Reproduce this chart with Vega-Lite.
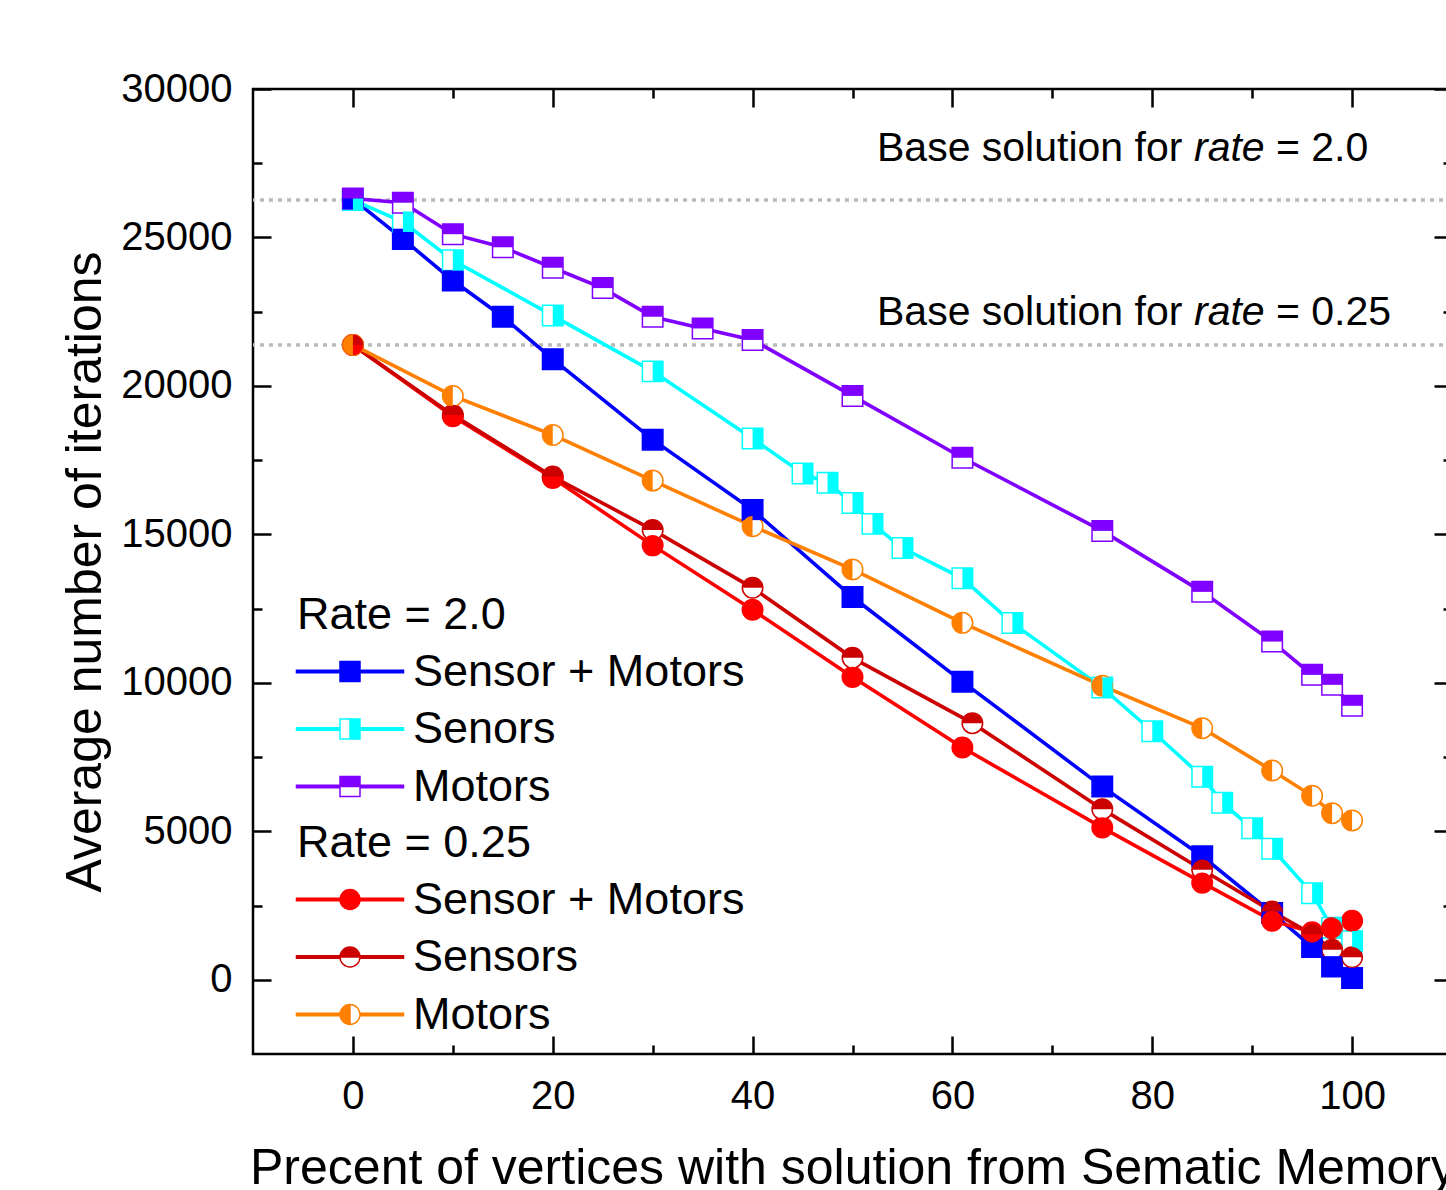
{
  "$schema": "https://vega.github.io/schema/vega-lite/v6.json",
  "width": 1199,
  "height": 965,
  "autosize": {"type": "none"},
  "padding": {"left": 253, "top": 89, "right": -6, "bottom": 136},
  "background": "white",
  "config": {
    "view": {"stroke": "black", "strokeWidth": 2.5},
    "font": "Liberation Sans",
    "axis": {
      "grid": false, "domain": false, "tickColor": "black", "tickWidth": 2.5,
      "labelColor": "black", "titleColor": "black", "labelFont": "Liberation Sans",
      "titleFont": "Liberation Sans", "labelFontSize": 40, "titleFontSize": 50,
      "titleFontWeight": "normal", "labelFlush": false, "labelOverlap": false
    },
    "legend": {
      "orient": "none", "padding": 0,
      "titleFontSize": 45, "titleFontWeight": "normal", "titleColor": "black", "titleFont": "Liberation Sans", "titlePadding": 11, "titleLimit": 500,
      "labelFontSize": 45, "labelColor": "black", "labelFont": "Liberation Sans", "labelOffset": 40.5, "labelLimit": 500, "rowPadding": 11.5,
      "symbolSize": 400, "symbolStrokeWidth": 1.5, "symbolOffset": 30.5, "symbolOpacity": 1
    }
  },
  "datasets": {
    "pts": [
      {"line": "Sensor + Motors, rate 2.0", "series": "Sensor + Motors", "x": 0, "y": 26290},
      {"line": "Sensor + Motors, rate 2.0", "series": "Sensor + Motors", "x": 5, "y": 24950},
      {"line": "Sensor + Motors, rate 2.0", "series": "Sensor + Motors", "x": 10, "y": 23550},
      {"line": "Sensor + Motors, rate 2.0", "series": "Sensor + Motors", "x": 15, "y": 22330},
      {"line": "Sensor + Motors, rate 2.0", "series": "Sensor + Motors", "x": 20, "y": 20900},
      {"line": "Sensor + Motors, rate 2.0", "series": "Sensor + Motors", "x": 30, "y": 18190},
      {"line": "Sensor + Motors, rate 2.0", "series": "Sensor + Motors", "x": 40, "y": 15825},
      {"line": "Sensor + Motors, rate 2.0", "series": "Sensor + Motors", "x": 50, "y": 12890},
      {"line": "Sensor + Motors, rate 2.0", "series": "Sensor + Motors", "x": 61, "y": 10040},
      {"line": "Sensor + Motors, rate 2.0", "series": "Sensor + Motors", "x": 75, "y": 6505},
      {"line": "Sensor + Motors, rate 2.0", "series": "Sensor + Motors", "x": 85, "y": 4160},
      {"line": "Sensor + Motors, rate 2.0", "series": "Sensor + Motors", "x": 92, "y": 2250},
      {"line": "Sensor + Motors, rate 2.0", "series": "Sensor + Motors", "x": 96, "y": 1100},
      {"line": "Sensor + Motors, rate 2.0", "series": "Sensor + Motors", "x": 98, "y": 450},
      {"line": "Sensor + Motors, rate 2.0", "series": "Sensor + Motors", "x": 100, "y": 60},
      {"line": "Senors, rate 2.0", "series": "Senors", "x": 0, "y": 26260},
      {"line": "Senors, rate 2.0", "series": "Senors", "x": 5, "y": 25530},
      {"line": "Senors, rate 2.0", "series": "Senors", "x": 10, "y": 24230},
      {"line": "Senors, rate 2.0", "series": "Senors", "x": 20, "y": 22370},
      {"line": "Senors, rate 2.0", "series": "Senors", "x": 30, "y": 20490},
      {"line": "Senors, rate 2.0", "series": "Senors", "x": 40, "y": 18230},
      {"line": "Senors, rate 2.0", "series": "Senors", "x": 45, "y": 17050},
      {"line": "Senors, rate 2.0", "series": "Senors", "x": 47.5, "y": 16740},
      {"line": "Senors, rate 2.0", "series": "Senors", "x": 50, "y": 16055},
      {"line": "Senors, rate 2.0", "series": "Senors", "x": 52, "y": 15354},
      {"line": "Senors, rate 2.0", "series": "Senors", "x": 55, "y": 14540},
      {"line": "Senors, rate 2.0", "series": "Senors", "x": 61, "y": 13520},
      {"line": "Senors, rate 2.0", "series": "Senors", "x": 66, "y": 12015},
      {"line": "Senors, rate 2.0", "series": "Senors", "x": 75, "y": 9840},
      {"line": "Senors, rate 2.0", "series": "Senors", "x": 80, "y": 8370},
      {"line": "Senors, rate 2.0", "series": "Senors", "x": 85, "y": 6840},
      {"line": "Senors, rate 2.0", "series": "Senors", "x": 87, "y": 5965},
      {"line": "Senors, rate 2.0", "series": "Senors", "x": 90, "y": 5100},
      {"line": "Senors, rate 2.0", "series": "Senors", "x": 92, "y": 4410},
      {"line": "Senors, rate 2.0", "series": "Senors", "x": 96, "y": 2910},
      {"line": "Senors, rate 2.0", "series": "Senors", "x": 98, "y": 1750},
      {"line": "Senors, rate 2.0", "series": "Senors", "x": 100, "y": 1300},
      {"line": "Motors, rate 2.0", "series": "Motors", "x": 0, "y": 26310},
      {"line": "Motors, rate 2.0", "series": "Motors", "x": 5, "y": 26170},
      {"line": "Motors, rate 2.0", "series": "Motors", "x": 10, "y": 25110},
      {"line": "Motors, rate 2.0", "series": "Motors", "x": 15, "y": 24670},
      {"line": "Motors, rate 2.0", "series": "Motors", "x": 20, "y": 23980},
      {"line": "Motors, rate 2.0", "series": "Motors", "x": 25, "y": 23295},
      {"line": "Motors, rate 2.0", "series": "Motors", "x": 30, "y": 22330},
      {"line": "Motors, rate 2.0", "series": "Motors", "x": 35, "y": 21935},
      {"line": "Motors, rate 2.0", "series": "Motors", "x": 40, "y": 21550},
      {"line": "Motors, rate 2.0", "series": "Motors", "x": 50, "y": 19663},
      {"line": "Motors, rate 2.0", "series": "Motors", "x": 61, "y": 17580},
      {"line": "Motors, rate 2.0", "series": "Motors", "x": 75, "y": 15118},
      {"line": "Motors, rate 2.0", "series": "Motors", "x": 85, "y": 13064},
      {"line": "Motors, rate 2.0", "series": "Motors", "x": 92, "y": 11390},
      {"line": "Motors, rate 2.0", "series": "Motors", "x": 96, "y": 10269},
      {"line": "Motors, rate 2.0", "series": "Motors", "x": 98, "y": 9933},
      {"line": "Motors, rate 2.0", "series": "Motors", "x": 100, "y": 9226},
      {"line": "Sensor + Motors, rate 0.25", "series": "Sensor + Motors", "x": 0, "y": 21380},
      {"line": "Sensor + Motors, rate 0.25", "series": "Sensor + Motors", "x": 10, "y": 18980},
      {"line": "Sensor + Motors, rate 0.25", "series": "Sensor + Motors", "x": 20, "y": 16900},
      {"line": "Sensor + Motors, rate 0.25", "series": "Sensor + Motors", "x": 30, "y": 14630},
      {"line": "Sensor + Motors, rate 0.25", "series": "Sensor + Motors", "x": 40, "y": 12460},
      {"line": "Sensor + Motors, rate 0.25", "series": "Sensor + Motors", "x": 50, "y": 10200},
      {"line": "Sensor + Motors, rate 0.25", "series": "Sensor + Motors", "x": 61, "y": 7820},
      {"line": "Sensor + Motors, rate 0.25", "series": "Sensor + Motors", "x": 75, "y": 5125},
      {"line": "Sensor + Motors, rate 0.25", "series": "Sensor + Motors", "x": 85, "y": 3270},
      {"line": "Sensor + Motors, rate 0.25", "series": "Sensor + Motors", "x": 92, "y": 1990},
      {"line": "Sensor + Motors, rate 0.25", "series": "Sensor + Motors", "x": 96, "y": 1600},
      {"line": "Sensor + Motors, rate 0.25", "series": "Sensor + Motors", "x": 98, "y": 1740},
      {"line": "Sensor + Motors, rate 0.25", "series": "Sensor + Motors", "x": 100, "y": 1990},
      {"line": "Sensors, rate 0.25", "series": "Sensors", "x": 0, "y": 21380},
      {"line": "Sensors, rate 0.25", "series": "Sensors", "x": 10, "y": 19024},
      {"line": "Sensors, rate 0.25", "series": "Sensors", "x": 20, "y": 16946},
      {"line": "Sensors, rate 0.25", "series": "Sensors", "x": 30, "y": 15151},
      {"line": "Sensors, rate 0.25", "series": "Sensors", "x": 40, "y": 13200},
      {"line": "Sensors, rate 0.25", "series": "Sensors", "x": 50, "y": 10842},
      {"line": "Sensors, rate 0.25", "series": "Sensors", "x": 62, "y": 8643},
      {"line": "Sensors, rate 0.25", "series": "Sensors", "x": 75, "y": 5747},
      {"line": "Sensors, rate 0.25", "series": "Sensors", "x": 85, "y": 3704},
      {"line": "Sensors, rate 0.25", "series": "Sensors", "x": 92, "y": 2300},
      {"line": "Sensors, rate 0.25", "series": "Sensors", "x": 96, "y": 1530},
      {"line": "Sensors, rate 0.25", "series": "Sensors", "x": 98, "y": 1010},
      {"line": "Sensors, rate 0.25", "series": "Sensors", "x": 100, "y": 760},
      {"line": "Motors, rate 0.25", "series": "Motors", "x": 0, "y": 21380},
      {"line": "Motors, rate 0.25", "series": "Motors", "x": 10, "y": 19663},
      {"line": "Motors, rate 0.25", "series": "Motors", "x": 20, "y": 18350},
      {"line": "Motors, rate 0.25", "series": "Motors", "x": 30, "y": 16811},
      {"line": "Motors, rate 0.25", "series": "Motors", "x": 40, "y": 15275},
      {"line": "Motors, rate 0.25", "series": "Motors", "x": 50, "y": 13820},
      {"line": "Motors, rate 0.25", "series": "Motors", "x": 61, "y": 12020},
      {"line": "Motors, rate 0.25", "series": "Motors", "x": 75, "y": 9899},
      {"line": "Motors, rate 0.25", "series": "Motors", "x": 85, "y": 8474},
      {"line": "Motors, rate 0.25", "series": "Motors", "x": 92, "y": 7048},
      {"line": "Motors, rate 0.25", "series": "Motors", "x": 96, "y": 6195},
      {"line": "Motors, rate 0.25", "series": "Motors", "x": 98, "y": 5612},
      {"line": "Motors, rate 0.25", "series": "Motors", "x": 100, "y": 5364}
    ],
    "base": [
      {"rate": "2.0", "y": 26260},
      {"rate": "0.25", "y": 21380}
    ],
    "notes": [
      {"rate": "2.0", "x": 52.45, "y": 27576, "suffix": "= 2.0"},
      {"rate": "0.25", "x": 52.45, "y": 22054, "suffix": "= 0.25"}
    ]
  },
  "layer": [
    {
      "data": {"name": "base"},
      "mark": {"type": "rule", "color": "#bbbbbb", "strokeWidth": 3.5, "strokeDash": [4, 5]},
      "encoding": {
        "y": {"field": "y", "type": "quantitative", "axis": null}
      }
    },
    {
      "data": {"name": "pts"},
      "mark": {"type": "line", "strokeWidth": 3.6},
      "encoding": {
        "x": {"field": "x", "type": "quantitative", "scale": {"domain": [-10, 110], "nice": false, "zero": false},
          "axis": {"orient": "bottom", "values": [0, 20, 40, 60, 80, 100], "offset": -18, "tickSize": 18, "labelPadding": 22, "format": "d",
            "title": "Precent of vertices with solution from Sematic Memory", "titlePadding": 27}},
        "y": {"field": "y", "type": "quantitative", "scale": {"domain": [-2500, 30000], "nice": false, "zero": false},
          "axis": {"orient": "left", "values": [0, 5000, 10000, 15000, 20000, 25000, 30000], "offset": -18, "tickSize": 18, "labelPadding": 21, "format": "d",
            "title": "Average number of iterations", "titlePadding": 10}},
        "color": {"field": "line", "type": "nominal", "legend": null,
          "scale": {"domain": ["Sensor + Motors, rate 2.0", "Senors, rate 2.0", "Motors, rate 2.0", "Sensor + Motors, rate 0.25", "Sensors, rate 0.25", "Motors, rate 0.25"],
            "range": ["#0000ff", "#00ffff", "#8000ff", "#ff0000", "#cc0000", "#ff8000"]}}
      }
    },
    {
      "data": {"name": "pts"},
      "mark": {"type": "point", "filled": false, "fill": "white", "strokeWidth": 1.5, "size": 420, "opacity": 1},
      "encoding": {
        "x": {"field": "x", "type": "quantitative",
          "axis": {"orient": "top", "values": [0, 20, 40, 60, 80, 100], "offset": -18, "tickSize": 18, "labels": false, "title": null}},
        "y": {"field": "y", "type": "quantitative",
          "axis": {"orient": "right", "values": [0, 5000, 10000, 15000, 20000, 25000, 30000], "offset": -18, "tickSize": 18, "labels": false, "title": null}},
        "color": {"field": "line", "type": "nominal", "legend": null,
          "scale": {"domain": ["Sensor + Motors, rate 2.0", "Senors, rate 2.0", "Motors, rate 2.0", "Sensor + Motors, rate 0.25", "Sensors, rate 0.25", "Motors, rate 0.25"],
            "range": ["#0000ff", "#00ffff", "#8000ff", "#ff0000", "#cc0000", "#ff8000"]}},
        "shape": {"field": "line", "type": "nominal", "legend": null,
          "scale": {"domain": ["Sensor + Motors, rate 2.0", "Senors, rate 2.0", "Motors, rate 2.0", "Sensor + Motors, rate 0.25", "Sensors, rate 0.25", "Motors, rate 0.25"],
            "range": ["M-1,-1H1V1H-1Z", "M-1,-1H1V1H-1Z", "M-1,-1H1V1H-1Z", "M-1,0A1,1,0,1,1,1,0A1,1,0,1,1,-1,0Z", "M-1,0A1,1,0,1,1,1,0A1,1,0,1,1,-1,0Z", "M-1,0A1,1,0,1,1,1,0A1,1,0,1,1,-1,0Z"]}}
      }
    },
    {
      "data": {"name": "pts"},
      "mark": {"type": "point", "filled": true, "size": 420, "opacity": 1},
      "encoding": {
        "x": {"field": "x", "type": "quantitative",
          "axis": {"orient": "top", "values": [10, 30, 50, 70, 90], "offset": -9, "tickSize": 9, "labels": false, "title": null}},
        "y": {"field": "y", "type": "quantitative",
          "axis": {"orient": "right", "values": [2500, 7500, 12500, 17500, 22500, 27500], "offset": -9, "tickSize": 9, "labels": false, "title": null}},
        "color": {"field": "line", "type": "nominal", "legend": null,
          "scale": {"domain": ["Sensor + Motors, rate 2.0", "Senors, rate 2.0", "Motors, rate 2.0", "Sensor + Motors, rate 0.25", "Sensors, rate 0.25", "Motors, rate 0.25"],
            "range": ["#0000ff", "#00ffff", "#8000ff", "#ff0000", "#cc0000", "#ff8000"]}},
        "shape": {"field": "line", "type": "nominal", "legend": null,
          "scale": {"domain": ["Sensor + Motors, rate 2.0", "Senors, rate 2.0", "Motors, rate 2.0", "Sensor + Motors, rate 0.25", "Sensors, rate 0.25", "Motors, rate 0.25"],
            "range": ["M-1,-1H1V1H-1Z", "M0,-1H1V1H0Z", "M-1,-1H1V0H-1Z", "M-1,0A1,1,0,1,1,1,0A1,1,0,1,1,-1,0Z", "M-1,0A1,1,0,0,1,1,0Z", "M0,1A1,1,0,0,1,0,-1Z"]}}
      }
    },
    {
      "data": {"name": "notes"},
      "mark": {"type": "text", "text": "Base solution for", "align": "left", "baseline": "alphabetic", "fontSize": 41, "font": "Liberation Sans", "color": "black"},
      "encoding": {
        "x": {"field": "x", "type": "quantitative",
          "axis": {"orient": "bottom", "values": [10, 30, 50, 70, 90], "offset": -9, "tickSize": 9, "labels": false, "title": null}},
        "y": {"field": "y", "type": "quantitative",
          "axis": {"orient": "left", "values": [2500, 7500, 12500, 17500, 22500, 27500], "offset": -9, "tickSize": 9, "labels": false, "title": null}}
      }
    },
    {
      "data": {"name": "notes"},
      "mark": {"type": "text", "text": "rate", "align": "left", "baseline": "alphabetic", "fontSize": 41, "font": "Liberation Sans", "fontStyle": "italic", "color": "black", "dx": 317},
      "encoding": {
        "x": {"field": "x", "type": "quantitative", "axis": null},
        "y": {"field": "y", "type": "quantitative", "axis": null}
      }
    },
    {
      "data": {"name": "notes"},
      "mark": {"type": "text", "align": "left", "baseline": "alphabetic", "fontSize": 41, "font": "Liberation Sans", "color": "black", "dx": 399},
      "encoding": {
        "x": {"field": "x", "type": "quantitative", "axis": null},
        "y": {"field": "y", "type": "quantitative", "axis": null},
        "text": {"field": "suffix"}
      }
    },
    {
      "data": {"name": "pts"},
      "transform": [{"filter": {"field": "x", "lt": -100}}],
      "mark": {"type": "point", "filled": true, "opacity": 1},
      "encoding": {
        "x": {"field": "x", "type": "quantitative", "axis": null},
        "y": {"field": "y", "type": "quantitative", "axis": null},
        "shape": {"field": "series", "type": "nominal",
          "scale": {"domain": ["Sensor + Motors", "Senors", "Motors"],
            "range": [
              "M-5.35,-0.13H-1V0.13H-5.35Z M1,-0.13H5.35V0.13H1Z M-1,-1H1V1H-1Z",
              "M-5.35,-0.13H-1V0.13H-5.35Z M1,-0.13H5.35V0.13H1Z M0,-1H1V1H0Z M0,-1H-1V1H0H-1V-1H0",
              "M-5.35,-0.13H-1V0.13H-5.35Z M1,-0.13H5.35V0.13H1Z M-1,-1H1V0H-1Z M-1,0V1H1V0V1H-1V0"]},
          "legend": {"title": "Rate = 2.0", "legendX": 44, "legendY": 504}},
        "fill": {"field": "series", "type": "nominal",
          "scale": {"domain": ["Sensor + Motors", "Senors", "Motors"], "range": ["#0000ff", "#00ffff", "#8000ff"]},
          "legend": {"title": "Rate = 2.0", "legendX": 44, "legendY": 504}},
        "stroke": {"field": "series", "type": "nominal",
          "scale": {"domain": ["Sensor + Motors", "Senors", "Motors"], "range": ["#0000ff", "#00ffff", "#8000ff"]},
          "legend": {"title": "Rate = 2.0", "legendX": 44, "legendY": 504}}
      }
    },
    {
      "data": {"name": "pts"},
      "transform": [{"filter": {"field": "x", "lt": -100}}],
      "mark": {"type": "point", "filled": true, "opacity": 1},
      "encoding": {
        "x": {"field": "x", "type": "quantitative", "axis": null},
        "y": {"field": "y", "type": "quantitative", "axis": null},
        "shape": {"field": "series", "type": "nominal",
          "scale": {"domain": ["Sensor + Motors", "Sensors", "Motors"],
            "range": [
              "M-5.35,-0.13H-1V0.13H-5.35Z M1,-0.13H5.35V0.13H1Z M-1,0A1,1,0,1,1,1,0A1,1,0,1,1,-1,0Z",
              "M-5.35,-0.13H-1V0.13H-5.35Z M1,-0.13H5.35V0.13H1Z M-1,0A1,1,0,0,1,1,0Z M1,0A1,1,0,0,1,-1,0A1,1,0,0,0,1,0",
              "M-5.35,-0.13H-1V0.13H-5.35Z M1,-0.13H5.35V0.13H1Z M0,1A1,1,0,0,1,0,-1Z M0,-1A1,1,0,0,1,0,1A1,1,0,0,0,0,-1"]},
          "legend": {"title": "Rate = 0.25", "legendX": 44, "legendY": 732}},
        "fill": {"field": "series", "type": "nominal",
          "scale": {"domain": ["Sensor + Motors", "Sensors", "Motors"], "range": ["#ff0000", "#cc0000", "#ff8000"]},
          "legend": {"title": "Rate = 0.25", "legendX": 44, "legendY": 732}},
        "stroke": {"field": "series", "type": "nominal",
          "scale": {"domain": ["Sensor + Motors", "Sensors", "Motors"], "range": ["#ff0000", "#cc0000", "#ff8000"]},
          "legend": {"title": "Rate = 0.25", "legendX": 44, "legendY": 732}}
      }
    }
  ],
  "resolve": {
    "scale": {"color": "independent", "shape": "independent", "fill": "independent", "stroke": "independent"},
    "axis": {"x": "independent", "y": "independent"}
  }
}
